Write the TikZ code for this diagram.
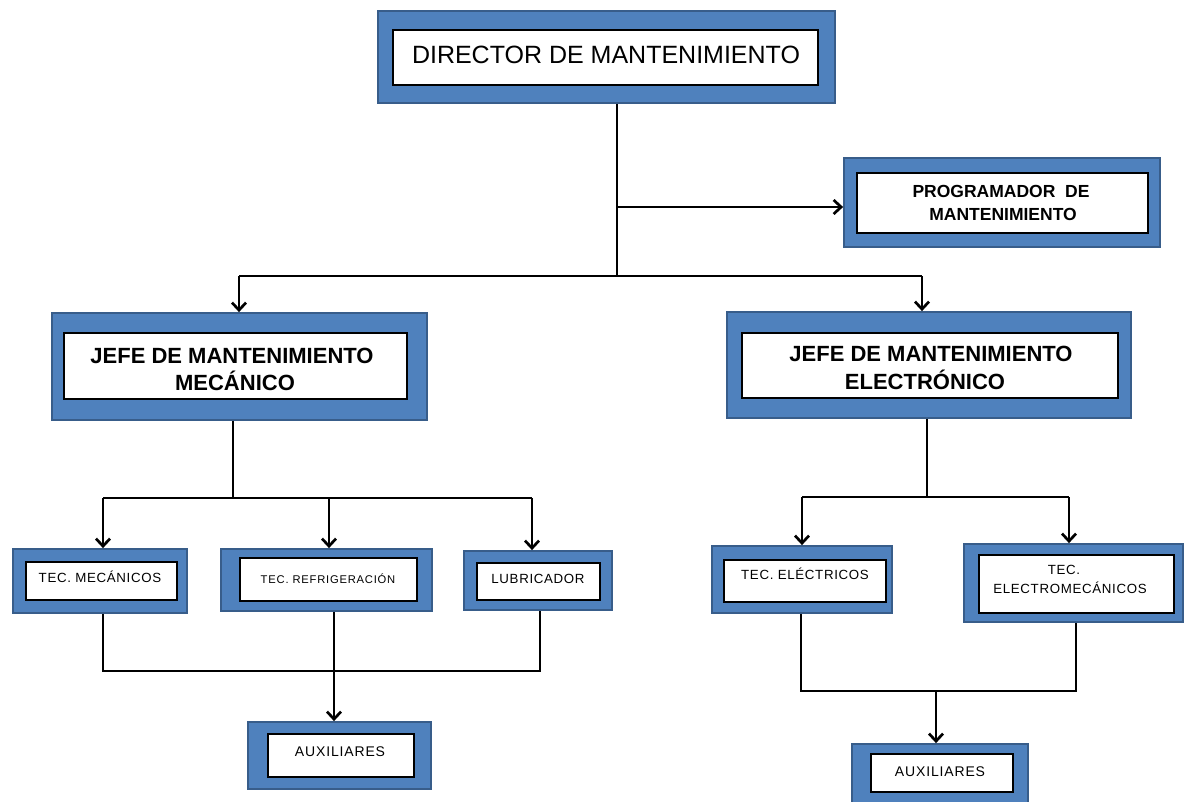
\documentclass[tikz,border=0pt]{standalone}
\usepackage{fontspec}
\setmainfont{Liberation Sans}
\usetikzlibrary{arrows.meta}
\definecolor{boxblue}{HTML}{4F81BD}
\definecolor{boxedge}{HTML}{385D8A}
\newcommand\mkbox[6]{\node[#1, minimum width={(#4)-(#2)}, minimum height={(#5)-(#3)}] (#6) at ({((#2)+(#4))/2},{((#3)+(#5))/2}) {};}
\begin{document}
\begin{tikzpicture}[x=1pt,y=-1pt,
  outerbox/.style={rectangle, draw=boxedge, fill=boxblue, line width=1.8pt, inner sep=0pt},
  innerbox/.style={rectangle, draw=black, fill=white, line width=1.6pt, inner sep=0pt},
  conn/.style={line width=2.7pt, line join=miter},
  arr/.style={conn, -{Straight Barb[length=7.5pt,width=14pt]}},
  lbl/.style={inner sep=0pt, anchor=base},
  bigtxt/.style={lbl, font=\fontsize{25}{28}\selectfont},
  progtxt/.style={lbl, font=\fontsize{17.5}{20}\selectfont\bfseries},
  jefetxt/.style={lbl, font=\fontsize{22}{25}\selectfont\bfseries},
  smalltxt/.style={lbl, font=\fontsize{13.3}{15}\selectfont\addfontfeature{LetterSpace=5}},
  reftxt/.style={lbl, font=\fontsize{11.2}{13}\selectfont\addfontfeature{LetterSpace=7}},
  auxtxt/.style={lbl, font=\fontsize{14}{16}\selectfont\addfontfeature{LetterSpace=6}},
]
\clip (0,0) rectangle (1188,801);
\fill[white] (0,0) rectangle (1188,801);

% boxes: outer blue, inner white
\mkbox{outerbox}{378}{11}{835}{103}{dirO}
\mkbox{innerbox}{393}{30}{818}{85}{dirI}
\mkbox{outerbox}{844}{158}{1160}{247}{progO}
\mkbox{innerbox}{857}{173}{1148}{233}{progI}
\mkbox{outerbox}{52}{313}{427}{420}{jmecO}
\mkbox{innerbox}{64}{333}{407}{399}{jmecI}
\mkbox{outerbox}{727}{312}{1131}{418}{jelecO}
\mkbox{innerbox}{742}{333}{1118}{398}{jelecI}
\mkbox{outerbox}{13}{549}{187}{613}{tmecO}
\mkbox{innerbox}{26}{562}{177}{600}{tmecI}
\mkbox{outerbox}{221}{549}{432}{611}{trefO}
\mkbox{innerbox}{240}{558}{417}{601}{trefI}
\mkbox{outerbox}{464}{551}{612}{610}{lubO}
\mkbox{innerbox}{477}{563}{600}{600}{lubI}
\mkbox{outerbox}{248}{722}{431}{789}{auxLO}
\mkbox{innerbox}{268}{734}{414}{777}{auxLI}
\mkbox{outerbox}{712}{546}{892}{613}{teleO}
\mkbox{innerbox}{724}{560}{886}{602}{teleI}
\mkbox{outerbox}{964}{544}{1183}{622}{telmO}
\mkbox{innerbox}{979}{555}{1174}{613}{telmI}
\mkbox{outerbox}{852}{744}{1028}{812}{auxRO}
\mkbox{innerbox}{871}{754}{1013}{792}{auxRI}

% texts
\node[bigtxt] (dirT) at (606,63) {DIRECTOR DE MANTENIMIENTO};
\node[progtxt] (progT1) at (1001,197) {PROGRAMADOR\ \ DE};
\node[progtxt] (progT2) at (1003,220) {MANTENIMIENTO};
\node[jefetxt] (jmecT1) at (232,363) {JEFE DE MANTENIMIENTO};
\node[jefetxt] (jmecT2) at (235,390) {MECÁNICO};
\node[jefetxt] (jelecT1) at (931,361) {JEFE DE MANTENIMIENTO};
\node[jefetxt] (jelecT2) at (925,389) {ELECTRÓNICO};
\node[smalltxt] (tmecT) at (100,582) {TEC. MECÁNICOS};
\node[reftxt] (trefT) at (328,583) {TEC. REFRIGERACIÓN};
\node[smalltxt] (lubT) at (538,583) {LUBRICADOR};
\node[auxtxt] (auxLT) at (340,756) {AUXILIARES};
\node[smalltxt] (teleT) at (805,579) {TEC. ELÉCTRICOS};
\node[smalltxt] (telmT1) at (1064,574) {TEC.};
\node[smalltxt] (telmT2) at (1070,593) {ELECTROMECÁNICOS};
\node[auxtxt] (auxRT) at (940,776) {AUXILIARES};

% top level connectors
\coordinate (j0) at (617,276);
\coordinate (jp) at (617,207);
\coordinate (jL) at (239,276);
\coordinate (jR) at (922,276);
\draw[conn] (j0 |- dirO.south) -- (j0);
\draw[arr] (jp) -- (jp -| progO.west);
\draw[conn] (jL) -- (jR);
\draw[arr] (jL) -- (jL |- jmecO.north);
\draw[arr] (jR) -- (jR |- jelecO.north);

% mechanical branch
\coordinate (m0) at (233,498);
\coordinate (m1) at (103,498);
\coordinate (m2) at (329,498);
\coordinate (m3) at (532,498);
\draw[conn] (m0 |- jmecO.south) -- (m0);
\draw[conn] (m1) -- (m3);
\draw[arr] (m1) -- (m1 |- tmecO.north);
\draw[arr] (m2) -- (m2 |- trefO.north);
\draw[arr] (m3) -- (m3 |- lubO.north);
\coordinate (b1) at (103,671);
\coordinate (b2) at (334,671);
\coordinate (b3) at (540,671);
\draw[conn] (b1 |- tmecO.south) -- (b1) -- (b3) -- (b3 |- lubO.south);
\draw[arr] (b2 |- trefO.south) -- (b2 |- auxLO.north);

% electronic branch
\coordinate (e0) at (927,497);
\coordinate (e1) at (802,497);
\coordinate (e2) at (1069,497);
\draw[conn] (e0 |- jelecO.south) -- (e0);
\draw[conn] (e1) -- (e2);
\draw[arr] (e1) -- (e1 |- teleO.north);
\draw[arr] (e2) -- (e2 |- telmO.north);
\coordinate (r1) at (801,691);
\coordinate (r0) at (936,691);
\coordinate (r2) at (1076,691);
\draw[conn] (r1 |- teleO.south) -- (r1) -- (r2) -- (r2 |- telmO.south);
\draw[arr] (r0) -- (r0 |- auxRO.north);
\end{tikzpicture}
\end{document}
